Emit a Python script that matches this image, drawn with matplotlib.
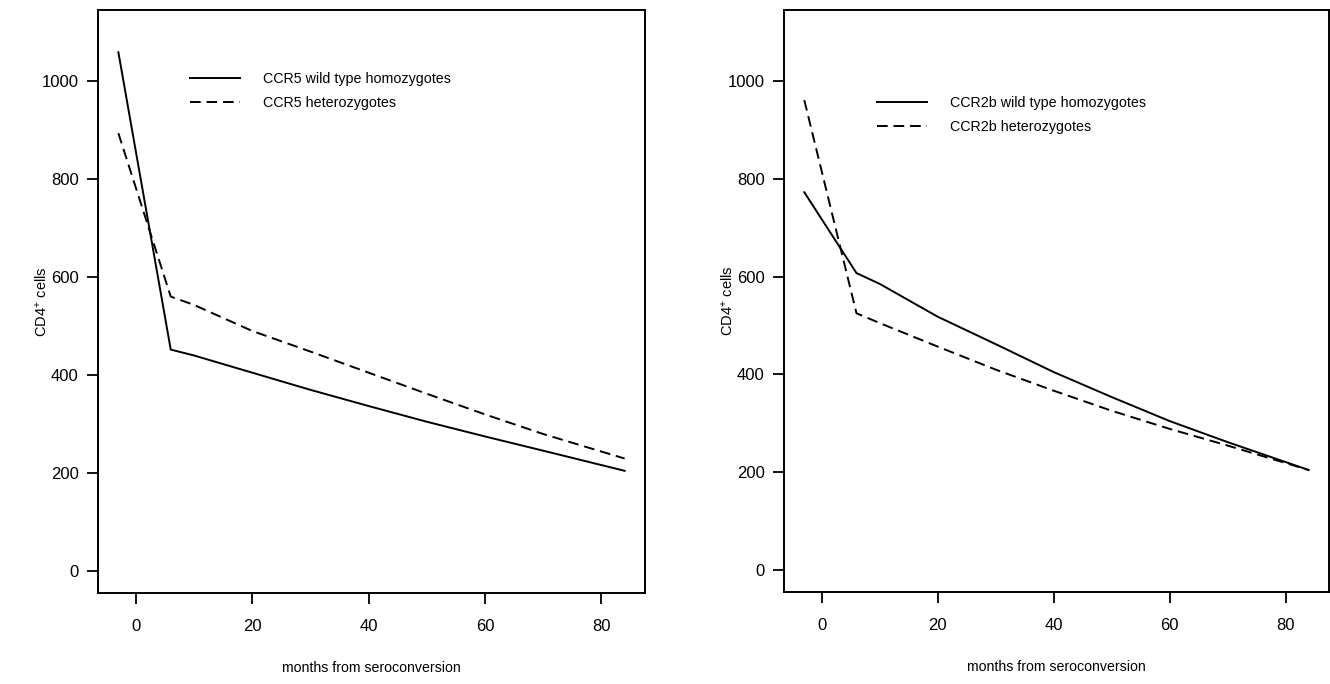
import matplotlib
matplotlib.use("Agg")
import matplotlib.pyplot as plt

plt.rcParams['font.family'] = ['Liberation Sans', 'DejaVu Sans']
plt.rcParams['mathtext.fontset'] = 'custom'
plt.rcParams['mathtext.rm'] = 'Liberation Sans'
plt.rcParams['mathtext.it'] = 'Liberation Sans'

# ---- data ----
months = [-3, 6, 10, 20, 30, 40, 50, 60, 70, 84]

ccr5_wt = [1058, 452, 440, 405, 370, 337, 305, 275, 246, 205]
ccr5_het = [893, 560, 543, 490, 448, 405, 362, 320, 280, 230]

ccr2b_wt = [772, 607, 585, 518, 462, 405, 354, 305, 262, 205]
ccr2b_het = [960, 525, 505, 457, 410, 367, 326, 289, 255, 205]

labels_left = ["CCR5 wild type homozygotes", "CCR5 heterozygotes"]
labels_right = ["CCR2b wild type homozygotes", "CCR2b heterozygotes"]

xticks = [0, 20, 40, 60, 80]
yticks = [0, 200, 400, 600, 800, 1000]

W, H = 1330, 684
fig = plt.figure(figsize=(W / 100, H / 100), dpi=100)

def make_ax(x0, x1, y0, y1):
    return fig.add_axes([x0 / W, 1 - y1 / H, (x1 - x0) / W, (y1 - y0) / H])

axL = make_ax(98, 645, 10, 593)
axR = make_ax(784, 1329, 10, 592)

dash = (5.5, 3.0)
for ax, wt, het, labs, lx, ly in [(axL, ccr5_wt, ccr5_het, labels_left, 0.168, 0.893),
                                  (axR, ccr2b_wt, ccr2b_het, labels_right, 0.17, 0.853)]:
    ax.plot(months, wt, color='black', lw=1.4, label=labs[0])
    ax.plot(months, het, color='black', lw=1.4, dashes=dash, label=labs[1])
    ax.set_xlim(-6.5, 87.5)
    ax.set_ylim(-44, 1144)
    ax.set_xticks(xticks)
    ax.set_yticks(yticks)
    ax.tick_params(direction='out', length=8, width=1.3, labelsize=12, colors='black')
    ax.tick_params(axis='x', pad=11)
    ax.tick_params(axis='y', pad=6)
    for s in ax.spines.values():
        s.set_linewidth(1.4)
        s.set_color('black')
    ax.set_xlabel("months from seroconversion", fontsize=10.2, labelpad=19)
    ax.set_ylabel("CD4$^{+}$ cells", fontsize=10.5)
    ax.yaxis.set_label_coords(-0.089, 0.5)
    ax.legend(loc='upper left', bbox_to_anchor=(lx, ly), frameon=False,
              fontsize=10.3, handlelength=3.5, handletextpad=1.6,
              labelspacing=0.7, borderpad=0, borderaxespad=0)

fig.savefig("out.png", dpi=100)
